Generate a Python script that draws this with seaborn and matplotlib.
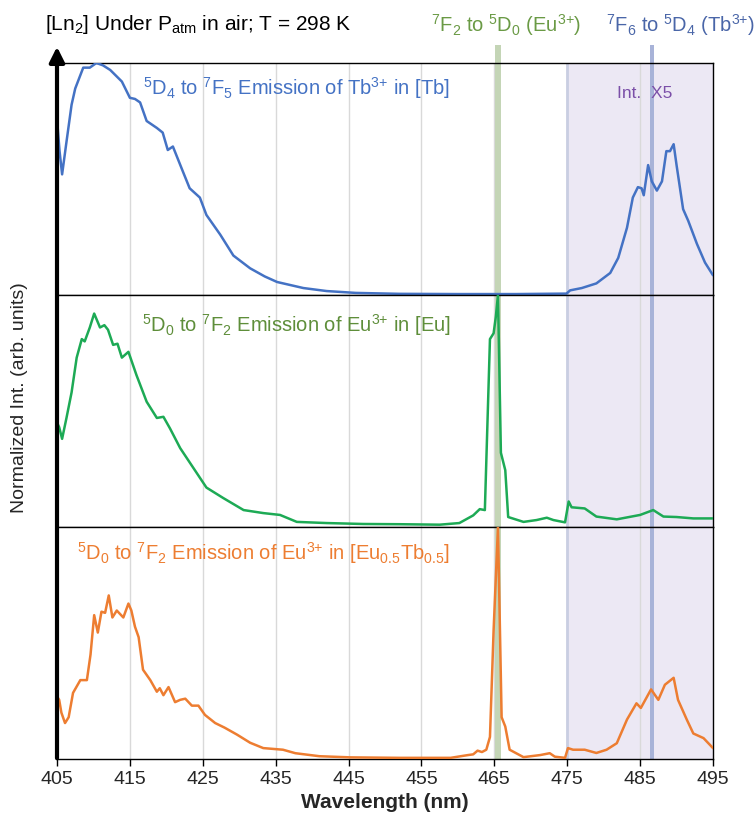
import matplotlib
matplotlib.use("Agg")
import matplotlib.pyplot as plt
import seaborn as sns
from matplotlib.patches import FancyArrowPatch

# =============================================================================
# Emission spectra of [Tb], [Eu] and [Eu0.5Tb0.5] (normalised)
# =============================================================================

tb_nm = [405.0, 405.35, 405.7, 406.3, 407.0, 407.5, 408.6, 409.5, 410.4, 411.3,
         412.3, 413.9, 415.0, 415.7, 416.4, 417.3, 418.7, 419.5, 420.2, 420.9,
         422.3, 423.2, 424.6, 425.5, 427.4, 429.2, 431.5, 433.5, 435.2, 438.8,
         442.0, 446.0, 452.0, 460.0, 468.0, 474.9, 475.4, 477.0, 479.0, 480.9,
         482.0, 483.2, 484.0, 484.7, 485.2, 485.5, 486.1, 486.6, 487.3, 488.0,
         488.6, 489.1, 489.6, 490.0, 490.9, 491.6, 492.8, 493.9, 495.0]
tb_int = [0.76, 0.62, 0.52, 0.66, 0.82, 0.89, 0.98, 0.98, 1.0, 0.99,
          0.97, 0.92, 0.85, 0.845, 0.83, 0.75, 0.72, 0.70, 0.625, 0.64,
          0.53, 0.46, 0.42, 0.345, 0.26, 0.17, 0.115, 0.08, 0.056, 0.03,
          0.017, 0.009, 0.005, 0.004, 0.004, 0.006, 0.02, 0.03, 0.05, 0.095,
          0.16, 0.29, 0.42, 0.465, 0.46, 0.43, 0.56, 0.49, 0.45, 0.49,
          0.62, 0.62, 0.65, 0.56, 0.37, 0.32, 0.22, 0.14, 0.085]

eu_nm = [405.0, 405.3, 405.7, 406.3, 407.0, 407.7, 408.4, 408.8, 409.5, 410.1,
         410.9, 411.5, 412.0, 412.7, 413.3, 413.9, 414.8, 415.9, 417.3, 418.7,
         419.6, 420.5, 421.9, 423.7, 425.5, 427.8, 430.6, 433.3, 435.6, 437.9,
         442.0, 447.0, 452.0, 457.5, 460.2, 462.1, 463.0, 463.7, 464.4, 464.9,
         465.2, 465.5, 465.9, 466.5, 466.9, 469.0, 470.8, 472.2, 473.1, 474.7,
         475.2, 475.6, 477.4, 479.0, 481.8, 485.0, 486.8, 488.2, 490.0, 492.3,
         495.0]
eu_int = [0.45, 0.43, 0.38, 0.47, 0.58, 0.73, 0.81, 0.80, 0.86, 0.92,
          0.86, 0.87, 0.85, 0.785, 0.79, 0.73, 0.755, 0.655, 0.54, 0.47,
          0.475, 0.425, 0.34, 0.255, 0.17, 0.125, 0.073, 0.06, 0.052, 0.022,
          0.017, 0.013, 0.012, 0.01, 0.017, 0.05, 0.077, 0.073, 0.81, 0.835,
          0.905, 1.0, 0.32, 0.245, 0.043, 0.022, 0.03, 0.04, 0.03, 0.02,
          0.11, 0.085, 0.08, 0.045, 0.033, 0.052, 0.073, 0.045, 0.043, 0.037,
          0.037]

eutb_nm = [405.0, 405.3, 405.6, 406.1, 406.6, 407.2, 408.2, 409.1, 409.6, 410.1,
           410.6, 411.1, 411.6, 412.1, 412.6, 413.2, 414.1, 414.8, 415.2, 415.7,
           416.2, 416.8, 417.8, 418.7, 419.1, 419.6, 420.3, 421.2, 421.9, 422.6,
           423.5, 424.4, 425.3, 426.7, 428.0, 429.7, 431.5, 433.3, 436.0, 437.7,
           441.0, 445.3, 452.0, 459.0, 461.4, 462.1, 462.7, 463.3, 463.9, 464.4,
           464.9, 465.5, 466.0, 466.5, 467.1, 469.0, 471.3, 472.6, 473.3, 474.7,
           475.1, 475.8, 477.4, 479.0, 480.4, 481.8, 483.2, 484.5, 485.1, 486.5,
           487.5, 488.4, 489.6, 490.2, 491.4, 492.3, 493.7, 495.0]
eutb_int = [0.27, 0.255, 0.2, 0.155, 0.18, 0.285, 0.34, 0.34, 0.45, 0.62,
            0.545, 0.635, 0.63, 0.705, 0.61, 0.64, 0.61, 0.67, 0.64, 0.57,
            0.525, 0.385, 0.34, 0.29, 0.305, 0.275, 0.31, 0.245, 0.255, 0.26,
            0.23, 0.23, 0.19, 0.155, 0.135, 0.105, 0.07, 0.047, 0.04, 0.025,
            0.012, 0.007, 0.005, 0.005, 0.017, 0.02, 0.036, 0.03, 0.04, 0.095,
            0.555, 1.0, 0.18, 0.14, 0.04, 0.008, 0.017, 0.025, 0.01, 0.005,
            0.047, 0.04, 0.04, 0.026, 0.04, 0.068, 0.17, 0.24, 0.22, 0.30,
            0.255, 0.32, 0.35, 0.255, 0.17, 0.11, 0.09, 0.047]

xticks = list(range(405, 496, 10))
labels = [
    r"$^5$D$_4$ to $^7$F$_5$ Emission of Tb$^{\text{3+}}$ in [Tb]",
    r"$^5$D$_0$ to $^7$F$_2$ Emission of Eu$^{\text{3+}}$ in [Eu]",
    r"$^5$D$_0$ to $^7$F$_2$ Emission of Eu$^{\text{3+}}$ in [Eu$_{0.5}$Tb$_{0.5}$]",
]
line_colors = ["#4472C4", "#1DAA55", "#ED7D31"]
text_colors = ["#4472C4", "#5E8E3A", "#ED7D31"]

sns.set_theme(style="white")
plt.rcParams["font.family"] = ["Liberation Sans", "DejaVu Sans"]
plt.rcParams["mathtext.fontset"] = "custom"
plt.rcParams["mathtext.rm"] = "Liberation Sans"
plt.rcParams["mathtext.it"] = "Liberation Sans"
plt.rcParams["mathtext.bf"] = "Liberation Sans:bold"
plt.rcParams["mathtext.default"] = "regular"

W, H = 756, 825
fig, axes = plt.subplots(3, 1, figsize=(W / 100, H / 100), dpi=100, sharex=True)
fig.subplots_adjust(left=57 / W, right=713 / W, bottom=1 - 759 / H, top=1 - 63 / H, hspace=0)


def px(x, y):
    return x / W, 1 - y / H


series = [(tb_nm, tb_int), (eu_nm, eu_int), (eutb_nm, eutb_int)]
for i, (ax, (nm, val)) in enumerate(zip(axes, series)):
    ax.axvspan(475, 495, color="#ECE8F4", zorder=0, lw=0)
    for g in xticks[1:-1]:
        ax.axvline(g, color="#D9D9D9", lw=1, zorder=0.5)
    ax.axvline(475, color="#C9CEE2", lw=2, zorder=0.6)
    ax.axvspan(465.1, 465.9, color="#C4D5B6", zorder=1, lw=0)
    ax.axvspan(486.3, 486.85, color="#A8B3D8", zorder=1, lw=0)
    sns.lineplot(x=nm, y=val, color=line_colors[i], lw=1.8, ax=ax, zorder=3)
    ax.set_xlim(405, 495)
    ax.set_ylim(0, 1.0)
    ax.set_yticks([])
    ax.set_ylabel("")
    ax.spines["left"].set_visible(False)
    for s in ["top", "right", "bottom"]:
        ax.spines[s].set_color("black")
        ax.spines[s].set_linewidth(1)
    if i < 2:
        ax.spines["bottom"].set_color("#404040")

# bands extending above the top panel
axes[0].axvspan(465.1, 465.9, ymin=1, ymax=1 + 18 / 232, color="#C4D5B6", lw=0, clip_on=False)
axes[0].axvspan(486.3, 486.85, ymin=1, ymax=1 + 18 / 232, color="#A8B3D8", lw=0, clip_on=False)

axes[2].set_xticks(xticks)
axes[2].tick_params(axis="x", bottom=True, direction="out", length=5, width=1,
                    color="black", labelsize=14, pad=4)
axes[2].set_xlabel("Wavelength (nm)", fontsize=15, fontweight="bold", labelpad=3)

# panel labels
fig.text(*px(143, 88), labels[0], color=text_colors[0], fontsize=14.5, va="center", ha="left")
fig.text(*px(142, 325), labels[1], color=text_colors[1], fontsize=14.5, va="center", ha="left")
fig.text(*px(77, 553), labels[2], color=text_colors[2], fontsize=14.5, va="center", ha="left")
fig.text(*px(617, 93), "Int.  X5", color="#7B4FA8", fontsize=12.5, va="center", ha="left")

# header texts
fig.text(*px(45, 25), "[Ln$_2$] Under P$_{atm}$ in air; T = 298 K", color="black",
         fontsize=15, va="center", ha="left")
fig.text(*px(506, 25), r"$^7$F$_2$ to $^5$D$_0$ (Eu$^{\text{3+}}$)", color="#6A9A45",
         fontsize=14.5, va="center", ha="center")
fig.text(*px(755, 25), r"$^7$F$_6$ to $^5$D$_4$ (Tb$^{\text{3+}}$)", color="#4A66A8",
         fontsize=14.5, va="center", ha="right")

fig.text(*px(20, 398), "Normalized Int. (arb. units)", rotation=90, fontsize=14,
         va="center", ha="center")

# left axis arrow
fig.add_artist(FancyArrowPatch(px(57, 761), px(57, 44), transform=fig.transFigure,
                               arrowstyle="-|>,head_length=0.6,head_width=0.3",
                               mutation_scale=15, lw=3, color="black"))

plt.savefig("out.png", dpi=100)
plt.close()
